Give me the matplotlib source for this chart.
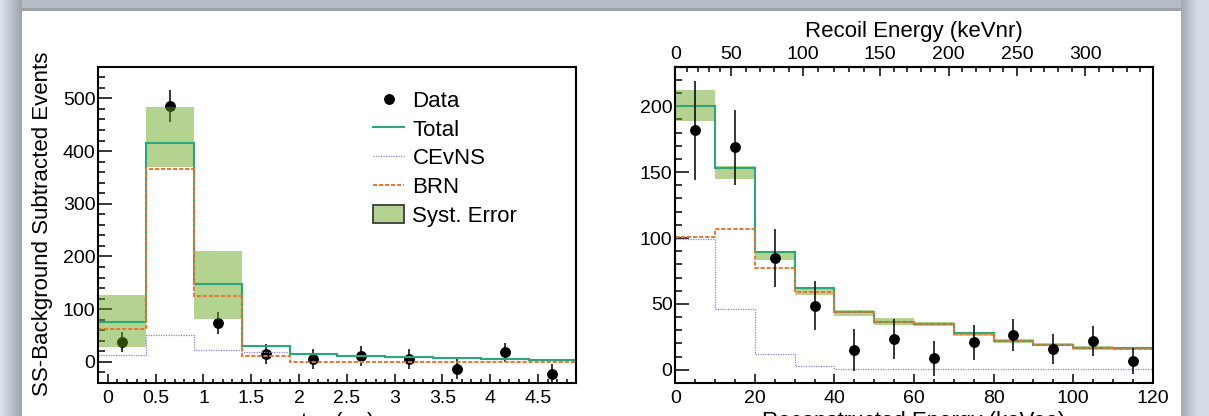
import numpy as np
import matplotlib
matplotlib.use("Agg")
import matplotlib.pyplot as plt
from matplotlib.ticker import MultipleLocator, FixedLocator
from matplotlib.lines import Line2D
from matplotlib.patches import Patch

plt.rcParams['font.family'] = ['Liberation Sans', 'DejaVu Sans']
plt.rcParams['mathtext.fontset'] = 'custom'
plt.rcParams['mathtext.rm'] = 'Liberation Sans'
plt.rcParams['mathtext.it'] = 'Liberation Sans:italic'

# ---------------- timing distribution (left) ----------------
t_edges = [-0.1, 0.4, 0.9, 1.4, 1.9, 2.4, 2.9, 3.4, 3.9, 4.4, 4.9]
t_data = [38, 485, 74, 15, 6, 11, 6, -13, 18, -22]
t_data_err = [19.5, 30, 21, 19, 19, 19, 19, 19, 18, 18]
t_total = [76, 415, 148, 29.7, 15.2, 12, 9, 7.3, 5.7, 4.4]
t_cevns = [14, 50.5, 23, 18.5, 15, 11.5, 8.5, 7, 5.5, 4]
t_brn = [63, 365, 125, 11.5, 0, 0, 0, 0, 0, 0]
t_syst_lo = [27.8, 369, 82, 28.2, 13.8, 10.8, 7.8, 6.3, 4.8, 3.5]
t_syst_hi = [126, 484, 211, 31.2, 16.6, 13.2, 10.2, 8.3, 6.6, 5.3]

# ---------------- energy distribution (right) ----------------
e_edges = [0, 10, 20, 30, 40, 50, 60, 70, 80, 90, 100, 110, 120]
e_data = [181.6, 169, 84.6, 48.5, 15, 23.3, 8.6, 20.8, 26.4, 15.7, 22, 6.5]
e_data_err = [37.5, 28.5, 22, 18.6, 15.9, 15, 13, 13, 12.3, 11.4, 11.2, 10]
e_total = [200, 152.8, 89.6, 61.8, 44, 36.3, 35, 27.8, 22.2, 19.1, 16.6, 16.2]
e_cevns = [99, 46, 12.1, 2.6, 0.3, 0.3, 0.3, 0.3, 0.3, 0.3, 0.3, 0.3]
e_brn = [100.8, 106.6, 77.5, 59.2, 43.7, 36.0, 34.7, 27.5, 21.9, 18.8, 16.3, 15.9]
e_syst_lo = [189, 145, 83, 57, 41, 34, 33.5, 26, 20.5, 17.8, 15.3, 15]
e_syst_hi = [212.5, 155, 90.5, 63, 45.5, 39.5, 36, 29, 23.5, 20.5, 17.8, 17.3]

# nuclear-recoil scale (keVnr) and the matching electron-equivalent energy (keVee)
recoil_nr = [0, 50, 100, 150, 200, 250, 300, 350]
recoil_ee = [0, 14.1, 32.1, 51.4, 68.7, 85.9, 103.1, 120.3]
recoil_labels = [0, 50, 100, 150, 200, 250, 300]

legend_labels = ["Data", "Total", "CEvNS", "BRN", "Syst. Error"]

# styles
C_TOTAL = "#2ea67d"
C_CEVNS = "#8683d6"
C_BRN = "#ea7430"
C_BAND = "#60a013"
BAND_ALPHA = 0.47
TICK_FS = 14
TITLE_FS = 16

W, H = 1209, 416
fig = plt.figure(figsize=(W / 100, H / 100), dpi=100)
fig.patch.set_facecolor("white")


def rect(x0, y0, x1, y1):
    return [x0 / W, 1 - y1 / H, (x1 - x0) / W, (y1 - y0) / H]


# slide frame around the figure
bg = fig.add_axes([0, 0, 1, 1], zorder=-10)
img = np.ones((H, W, 3))
left_a = np.array([222, 228, 238]) / 255
left_b = np.array([158, 162, 170]) / 255
for i in range(22):
    f = i / 21
    img[:, i] = left_a * (1 - f) + left_b * f
right_a = np.array([165, 169, 176]) / 255
right_b = np.array([214, 220, 230]) / 255
for i, col in enumerate(range(1181, W)):
    f = min(1.0, i / 16)
    img[:, col] = right_a * (1 - f) + right_b * f
img[0:8, 22:1181] = np.array([182, 188, 198]) / 255
img[8:11, 22:1181] = np.array([157, 161, 168]) / 255
bg.imshow(img, aspect="auto", interpolation="nearest", extent=(0, W, H, 0))
bg.set_axis_off()

ax1 = fig.add_axes(rect(98.3, 66.7, 576.3, 383))
ax2 = fig.add_axes(rect(675.3, 66.7, 1152.7, 383))


def style_axes(ax):
    ax.set_axisbelow(True)
    for sp in ax.spines.values():
        sp.set_linewidth(1.5)
    ax.spines["top"].set_zorder(3)
    ax.tick_params(which="both", direction="in", top=False, right=False,
                   width=1.1, labelsize=TICK_FS, colors="black")
    ax.tick_params(axis="y", which="major", length=10, pad=2)
    ax.tick_params(axis="y", which="minor", length=5)
    ax.tick_params(axis="x", which="major", length=6.7, pad=5)
    ax.tick_params(axis="x", which="minor", length=3.2)


# ---- left panel ----
style_axes(ax1)
t_centers = 0.5 * (np.array(t_edges[:-1]) + np.array(t_edges[1:]))
ax1.errorbar(t_centers, t_data, yerr=t_data_err, fmt="o", color="black",
             ms=6.8, elinewidth=1.1, capsize=0, zorder=0.9)
ax1.stairs(t_syst_hi, t_edges, baseline=t_syst_lo, fill=True,
           color=C_BAND, alpha=BAND_ALPHA, lw=0, zorder=1)
ax1.stairs(t_cevns, t_edges, baseline=None, color=C_CEVNS,
           ls=(0, (1, 1)), lw=0.9, zorder=2.0)
ax1.stairs(t_total, t_edges, baseline=None, color=C_TOTAL, lw=1.5, zorder=2.1)
ax1.stairs(t_brn, t_edges, baseline=None, color=C_BRN,
           ls=(0, (2.1, 1.0)), lw=1.4, zorder=2.2)
ax1.set_xlim(-0.1, 4.9)
ax1.set_ylim(-40, 560)
ax1.xaxis.set_major_locator(MultipleLocator(0.5))
ax1.xaxis.set_minor_locator(MultipleLocator(0.1))
ax1.yaxis.set_major_locator(MultipleLocator(100))
ax1.yaxis.set_minor_locator(MultipleLocator(20))
ax1.xaxis.set_major_formatter(lambda v, p: f"{v:g}")
ax1.set_ylabel("SS-Background Subtracted Events", fontsize=TITLE_FS)
ax1.yaxis.set_label_coords(-0.094, 0.504)
ax1.set_xlabel("t$_{\\mathrm{trig}}$ (μs)", fontsize=TITLE_FS, labelpad=3)

handles = [
    Line2D([], [], ls="none", marker="o", color="black", ms=6.8),
    Line2D([], [], color=C_TOTAL, lw=1.5),
    Line2D([], [], color=C_CEVNS, lw=0.9, ls=(0, (1, 1))),
    Line2D([], [], color=C_BRN, lw=1.4, ls=(0, (2.1, 1.0))),
    Patch(facecolor="#b4d293", edgecolor="#3c3c3c", lw=1.3),
]
ax1.legend(handles, legend_labels, loc="upper left",
           bbox_to_anchor=(0.5753, 0.9248), frameon=False, fontsize=16,
           borderpad=0, borderaxespad=0, handlelength=1.4,
           handletextpad=0.36, handleheight=0.9, labelspacing=0.30,
           numpoints=1)

# ---- right panel ----
style_axes(ax2)
ax2.stairs(e_syst_hi, e_edges, baseline=e_syst_lo, fill=True,
           color=C_BAND, alpha=BAND_ALPHA, lw=0, zorder=1)
ax2.stairs(e_cevns, e_edges, baseline=None, color=C_CEVNS,
           ls=(0, (1, 1)), lw=0.9, zorder=2.0)
ax2.stairs(e_total, e_edges, baseline=None, color=C_TOTAL, lw=1.5, zorder=2.1)
ax2.stairs(e_brn, e_edges, baseline=None, color=C_BRN,
           ls=(0, (2.1, 1.0)), lw=1.4, zorder=2.2)
e_centers = 0.5 * (np.array(e_edges[:-1]) + np.array(e_edges[1:]))
ax2.errorbar(e_centers, e_data, yerr=e_data_err, fmt="o", color="black",
             ms=6.8, elinewidth=1.1, capsize=0, zorder=3)
ax2.set_xlim(0, 120)
ax2.set_ylim(-10, 230)
ax2.xaxis.set_major_locator(MultipleLocator(20))
ax2.xaxis.set_minor_locator(MultipleLocator(5))
ax2.yaxis.set_major_locator(MultipleLocator(50))
ax2.yaxis.set_minor_locator(MultipleLocator(10))
ax2.set_xlabel("Reconstructed Energy (keVee)", fontsize=TITLE_FS, labelpad=3)


def ee_to_nr(x):
    return np.interp(x, recoil_ee, recoil_nr)


def nr_to_ee(x):
    return np.interp(x, recoil_nr, recoil_ee)


sec = ax2.secondary_xaxis("top", functions=(ee_to_nr, nr_to_ee))
sec.spines["top"].set_linewidth(1.5)
sec.xaxis.set_major_locator(FixedLocator(recoil_labels))
sec.xaxis.set_minor_locator(FixedLocator(np.arange(10, 350, 10)))
sec.xaxis.set_major_formatter(lambda v, p: f"{v:g}")
sec.tick_params(which="both", direction="in", width=1.1, labelsize=TICK_FS, pad=3)
sec.tick_params(which="major", length=6.7)
sec.tick_params(which="minor", length=3.6)
sec.set_xlabel("Recoil Energy (keVnr)", fontsize=TITLE_FS, labelpad=6)

fig.savefig("out.png", dpi=100, facecolor=fig.get_facecolor())
